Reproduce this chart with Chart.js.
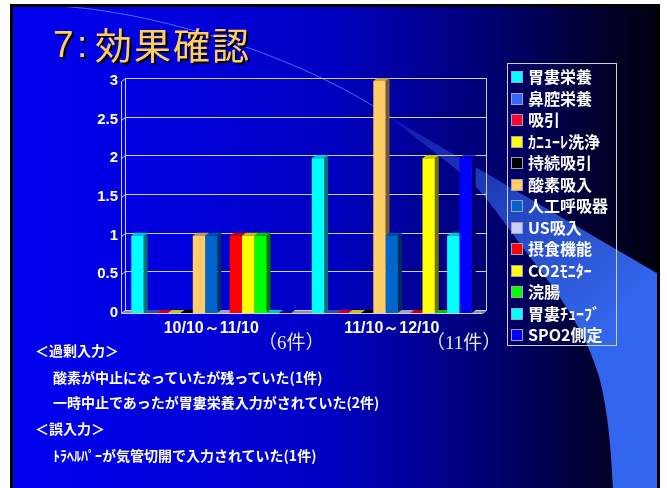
<!DOCTYPE html>
<html><head><meta charset="utf-8">
<script src="https://cdn.jsdelivr.net/npm/chart.js@4/dist/chart.umd.min.js"></script>
<style>
html,body{margin:0;padding:0;background:#fff;width:667px;height:488px;overflow:hidden;position:relative;}
#slide{position:absolute;left:10px;top:4px;width:650px;height:494px;box-sizing:border-box;border:3px solid #000;
 background:linear-gradient(to right,#0000f0 0%,#0000d8 30%,#0000c0 50%,#000070 75%,#000030 90%,#000010 100%);}
svg{position:absolute;left:0;top:0;}
canvas{position:absolute;left:0;top:0;}
.t{position:absolute;color:#fff;font-family:"Noto Sans CJK JP";font-weight:bold;font-size:14px;white-space:nowrap;line-height:14px;}
.title{position:absolute;top:26px;color:#ffcc66;font-size:37px;line-height:37px;text-shadow:2px 2px 0 #000;white-space:nowrap;}
.cnt{position:absolute;color:#e8e8e8;font-family:"Liberation Serif","Noto Sans CJK JP";font-size:19px;line-height:19px;white-space:nowrap;}
</style></head>
<body>
<div id="slide"></div>
<svg width="667" height="488">
 <defs>
  <clipPath id="cp"><rect x="13" y="7" width="644" height="481"/></clipPath>
  <linearGradient id="sw" gradientUnits="userSpaceOnUse" x1="390" y1="117" x2="600" y2="330">
   <stop offset="0" stop-color="#3366ee" stop-opacity="0.25"/>
   <stop offset="0.6" stop-color="#3366ee" stop-opacity="0.75"/>
   <stop offset="1" stop-color="#3366ee" stop-opacity="1"/>
  </linearGradient>
 </defs>
 <g clip-path="url(#cp)">
  <path d="M55 6 C150 10 300 55 390 117" fill="none" stroke="#4a6cff" stroke-width="1"/>
  <path d="M390 117 L660 275 L660 490 L613 490 C611 440 606 400 598 373 C590 350 580 320 530 257 C515 238 500 215 479 190 C460 170 430 150 390 117 Z" fill="url(#sw)"/>
 </g>
</svg>
<canvas id="c" width="667" height="488"></canvas>

<div class="title" style="left:53px;font-family:'Liberation Sans';">7</div>
<div class="title" style="left:77px;font-family:'Liberation Sans';">:</div>
<div class="title" style="left:95px;font-family:'Noto Sans CJK JP';letter-spacing:2px;">効果確認</div>

<div class="cnt" style="left:258px;top:333px;">（6件）</div>
<div class="cnt" style="left:426px;top:333px;">（11件）</div>

<div class="t" style="left:35px;top:343px;">＜過剰入力＞</div>
<div class="t" style="left:53px;top:370px;">酸素が中止になっていたが残っていた(1件)</div>
<div class="t" style="left:53px;top:395px;">一時中止であったが胃婁栄養入力がされていた(2件)</div>
<div class="t" style="left:35px;top:421px;">＜誤入力＞</div>
<div class="t" style="left:53px;top:448px;">ﾄﾗﾍﾙﾊﾟｰが気管切開で入力されていた(1件)</div>

<script>
const categories = ['10/10～11/10', '11/10～12/10'];
const seriesNames = ['胃婁栄養','鼻腔栄養','吸引','ｶﾆｭｰﾚ洗浄','持続吸引','酸素吸入','人工呼吸器','US吸入','摂食機能','CO2ﾓﾆﾀｰ','浣腸','胃婁ﾁｭｰﾌﾞ','SPO2側定'];
const seriesColors = ['#00ffff','#3366ff','#ff0033','#ffff00','#000000','#ffcc66','#0066cc','#ccccff','#ff0000','#ffff00','#00ff00','#00ffff','#0000ff'];
const period1 = [1,0,0,0,0,1,1,0,1,1,1,0,0];
const period2 = [2,0,0,0,0,3,1,0,0,2,0,1,2];
const yTicks = [0,0.5,1,1.5,2,2.5,3];

const DX = 4, DY = 3;
function shade(hex, f) {
  const n = parseInt(hex.slice(1), 16);
  const r = Math.round(((n >> 16) & 255) * f), g = Math.round(((n >> 8) & 255) * f), b = Math.round((n & 255) * f);
  return `rgb(${r},${g},${b})`;
}
function poly(ctx, pts, fill) {
  ctx.beginPath(); ctx.moveTo(pts[0][0], pts[0][1]);
  for (let i = 1; i < pts.length; i++) ctx.lineTo(pts[i][0], pts[i][1]);
  ctx.closePath(); ctx.fillStyle = fill; ctx.fill();
}

const depth3d = {
  id: 'depth3d',
  beforeDatasetsDraw(chart) {
    const ctx = chart.ctx, a = chart.chartArea, ys = chart.scales.y;
    ctx.save();
    poly(ctx, [[a.left, a.bottom], [a.right, a.bottom], [a.right + DX, a.bottom - DY], [a.left + DX, a.bottom - DY]], '#8c8ca8');
    ctx.strokeStyle = '#d0d0e8'; ctx.lineWidth = 1;
    yTicks.forEach(v => {
      const y = Math.round(ys.getPixelForValue(v)) + 0.5;
      ctx.beginPath();
      ctx.moveTo(a.left + 0.5, y);
      ctx.lineTo(a.left + DX + 0.5, y - DY);
      ctx.lineTo(a.right + DX + 0.5, y - DY);
      ctx.stroke();
    });
    const top = Math.round(ys.getPixelForValue(yTicks[yTicks.length - 1])) + 0.5;
    const bot = Math.round(ys.getPixelForValue(yTicks[0])) + 0.5;
    ctx.beginPath();
    ctx.moveTo(a.left + 0.5, top); ctx.lineTo(a.left + 0.5, bot);
    ctx.moveTo(a.left + DX + 0.5, top - DY); ctx.lineTo(a.left + DX + 0.5, bot - DY);
    ctx.moveTo(a.right + DX + 0.5, top - DY); ctx.lineTo(a.right + DX + 0.5, bot - DY);
    ctx.moveTo(a.left + 0.5, bot); ctx.lineTo(a.right + 0.5, bot); ctx.lineTo(a.right + DX + 0.5, bot - DY);
    ctx.stroke();
    chart.data.datasets.forEach((ds, i) => {
      const meta = chart.getDatasetMeta(i);
      meta.data.forEach(bar => {
        const p = bar.getProps(['x', 'y', 'base', 'width'], true);
        const l = p.x - p.width / 2, r = p.x + p.width / 2;
        poly(ctx, [[r, p.y], [r + DX, p.y - DY], [r + DX, p.base - DY], [r, p.base]], shade(ds.backgroundColor, 0.45));
        poly(ctx, [[l, p.y], [r, p.y], [r + DX, p.y - DY], [l + DX, p.y - DY]], shade(ds.backgroundColor, 0.78));
      });
    });
    ctx.restore();
  }
};

const legendBox = {
  id: 'legendBox',
  afterDraw(chart) {
    const ctx = chart.ctx;
    ctx.save();
    ctx.strokeStyle = '#d0d0d8'; ctx.lineWidth = 1;
    ctx.strokeRect(507.5, 63.5, 109, 282);
    ctx.font = 'bold 16px "Noto Sans CJK JP"';
    ctx.textBaseline = 'middle';
    chart.data.datasets.forEach((ds, i) => {
      const cy = Math.round(77 + i * 21.5);
      ctx.fillStyle = ds.backgroundColor;
      ctx.fillRect(512, cy - 5, 10, 10);
      ctx.strokeStyle = '#a0a0b0';
      ctx.strokeRect(511.5, cy - 5.5, 11, 11);
      ctx.fillStyle = '#ffffff';
      ctx.fillText(ds.label, 528, cy);
    });
    ctx.restore();
  }
};

new Chart(document.getElementById('c'), {
  type: 'bar',
  data: {
    labels: categories,
    datasets: seriesNames.map((n, i) => ({
      label: n,
      data: [period1[i], period2[i]],
      backgroundColor: seriesColors[i],
      borderWidth: 0,
      barPercentage: 1,
      categoryPercentage: 0.886
    }))
  },
  options: {
    responsive: false,
    devicePixelRatio: 1,
    animation: false,
    layout: { padding: { top: 81, right: 185, left: 0, bottom: 0 } },
    plugins: { legend: { display: false }, tooltip: { enabled: false } },
    scales: {
      y: {
        min: 0, max: 3,
        afterFit: s => { s.width = 121; },
        grid: { display: false, drawTicks: false },
        border: { display: false },
        afterBuildTicks: s => { s.ticks = yTicks.map(v => ({ value: v })); },
        ticks: { color: '#ffffff', font: { family: 'Liberation Sans', weight: 'bold', size: 15 }, padding: 3, callback: v => String(v) }
      },
      x: {
        afterFit: s => { s.height = 175; },
        grid: { display: false, drawTicks: false },
        border: { display: false },
        ticks: { color: '#ffffff', font: { family: 'Liberation Sans', weight: 'bold', size: 16 }, padding: 6, maxRotation: 0 }
      }
    }
  },
  plugins: [depth3d, legendBox]
});
</script>
</body></html>
